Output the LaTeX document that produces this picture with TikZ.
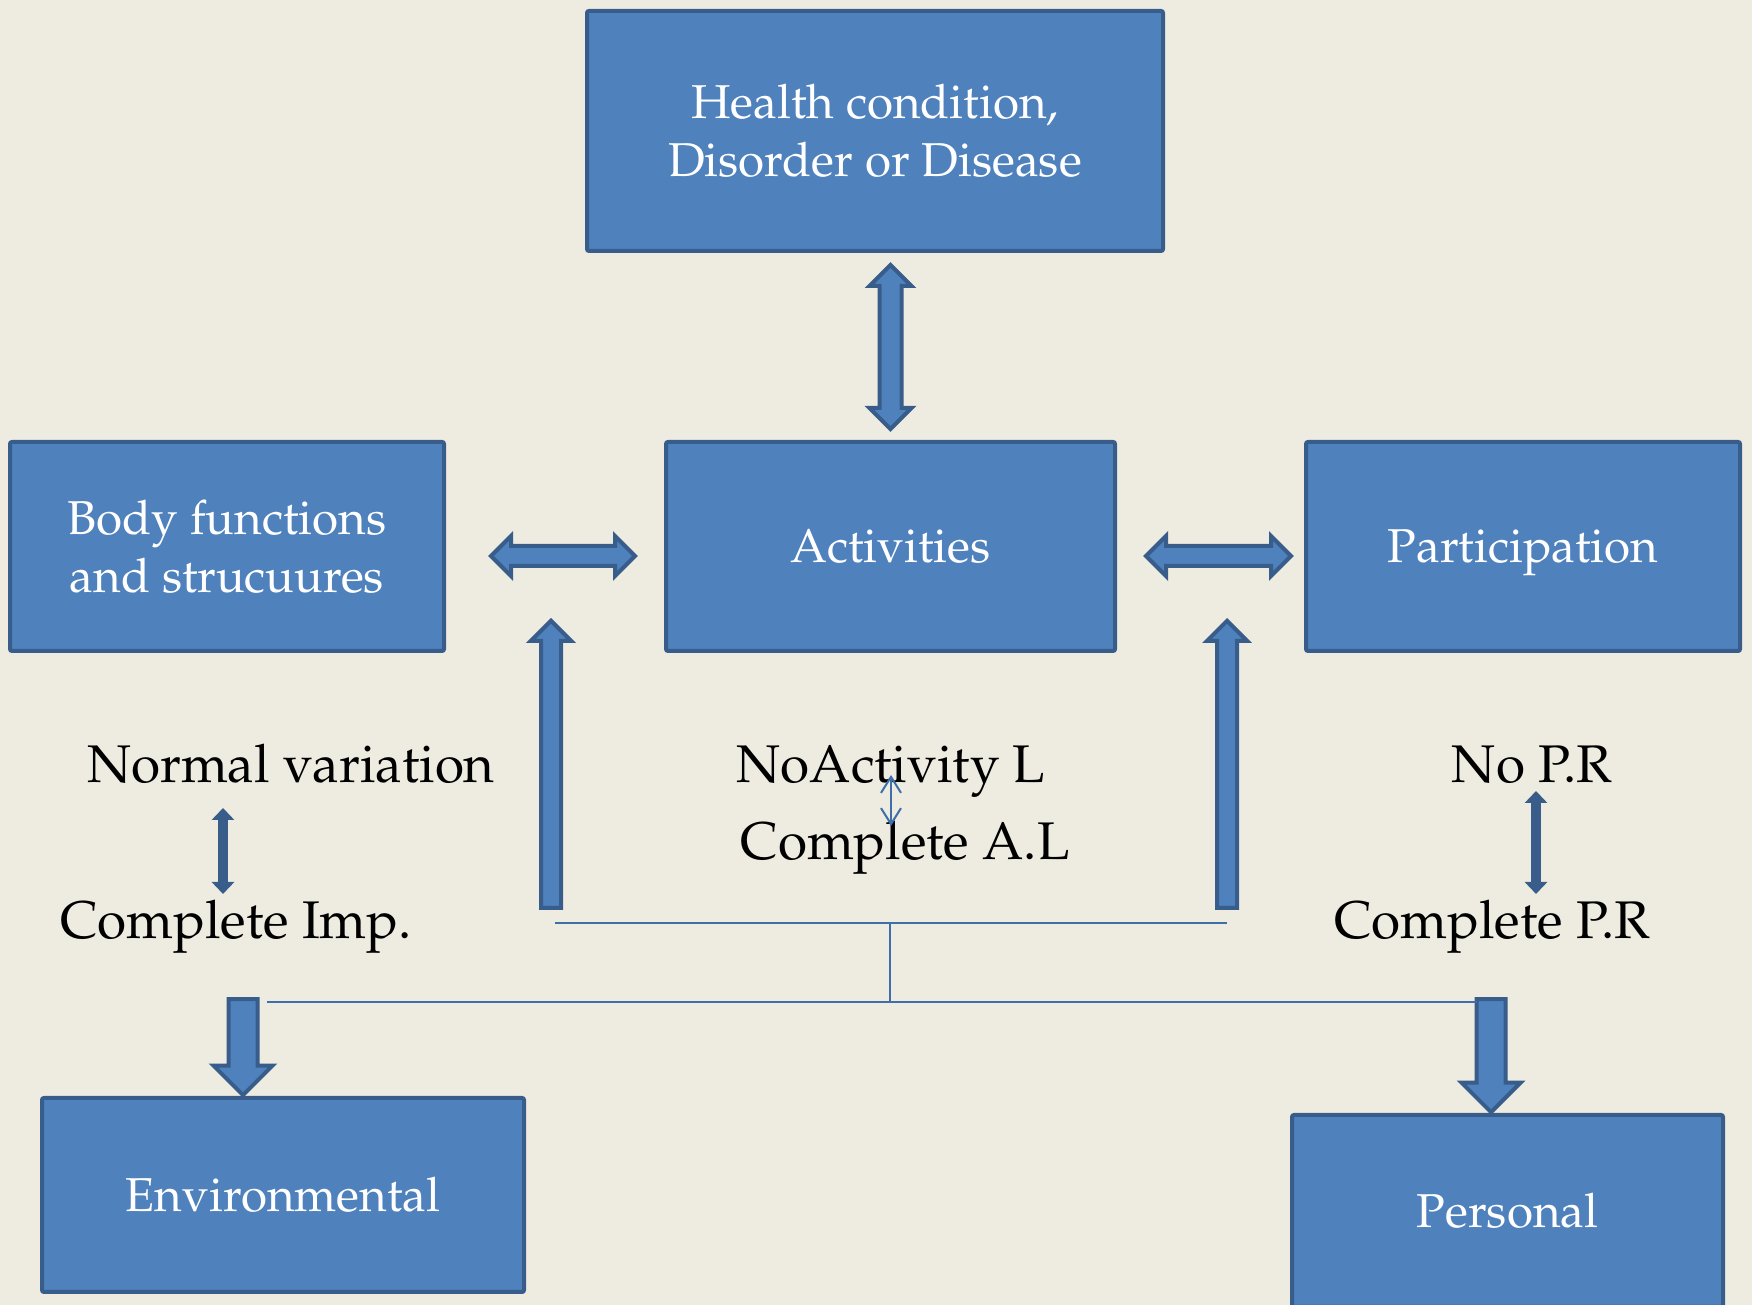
\documentclass[tikz,border=0pt]{standalone}
\usepackage[T1]{fontenc}
\usepackage{mathpazo}
\usepackage{tikz}
\usetikzlibrary{arrows.meta,positioning,calc,shapes.arrows}
\definecolor{boxblue}{RGB}{79,129,189}
\definecolor{boxedge}{RGB}{56,93,138}
\definecolor{slide}{RGB}{238,236,225}
\definecolor{linkblue}{RGB}{63,111,168}

\begin{document}
\begin{tikzpicture}[x=1pt, y=1pt, node distance=191pt]
    \tikzstyle{b}=[draw=boxedge, fill=boxblue, line width=4pt, outer sep=0pt, rounded corners=2pt, text=white, align=center, font=\fontsize{47.5}{58}\selectfont]
    \tikzstyle{lbl}=[anchor=base, inner sep=0pt, font=\fontsize{53}{64}\selectfont]
    \tikzstyle{dbl}=[double arrow, draw=boxedge, fill=boxblue, line width=4pt, inner sep=8pt, double arrow head extend=10pt, double arrow tip angle=90]
    \tikzstyle{uparrow}=[single arrow, draw=boxedge, fill=boxblue, line width=4pt, inner sep=8pt, single arrow head extend=10pt, single arrow tip angle=90, anchor=tip]
    \tikzstyle{link}=[draw=linkblue, line width=2pt]
    \tikzstyle{vararrow}=[boxedge, line width=10pt, {Triangle[width=22pt,length=12pt]}-{Triangle[width=22pt,length=12pt]}]

    \useasboundingbox (0,0) rectangle (1752,1305);
    \fill[slide] (0,0) rectangle (1752,1305);

    % boxes
    \node[b, minimum width=449pt, minimum height=209pt] (act) at (890.5,758.5) {Activities};
    \node[b, minimum width=434pt, minimum height=209pt, left=222pt of act] (body) {Body functions\\and strucuures};
    \node[b, minimum width=434pt, minimum height=209pt, text depth=0pt, right=of act] (part) {Participation};
    \node[b, minimum width=576pt, minimum height=240pt, above=of act, xshift=-15.5pt] (hc) {Health condition,\\Disorder or Disease};
    \node[b, minimum width=482pt, minimum height=194pt] (env) at (283,110) {Environmental};
    \node[b, minimum width=431pt, minimum height=192pt] (pers) at (1507.5,94) {Personal};

    % block arrows
    \node[dbl, shape border rotate=90, minimum height=164pt, inner sep=9pt] (hcact) at ([yshift=95pt]act.north) {};
    \node[dbl, minimum height=144pt] (bodyact) at ([xshift=-103pt,yshift=-9.5pt]act.west) {};
    \node[dbl, minimum height=145pt] (actpart) at ([xshift=103.5pt,yshift=-9.5pt]act.east) {};
    \node[uparrow, shape border rotate=90, minimum height=287pt] (envup) at (551,687) {};
    \node[uparrow, shape border rotate=90, minimum height=287pt] (persup) at (1227,687) {};
    \node[uparrow, shape border rotate=270, minimum height=96pt, inner sep=12.5pt, single arrow head extend=15pt] (envdown) at (env.north -| 243,0) {};
    \node[uparrow, shape border rotate=270, minimum height=113pt, inner sep=12.5pt, single arrow head extend=15pt] (persdown) at (pers.north -| 1491,0) {};

    % joining lines
    \coordinate (jl) at (555,382);
    \coordinate (jr) at (1227,382);
    \coordinate (jm) at (890,382);
    \coordinate (jb) at (890,303);
    \coordinate (bl) at (267,303);
    \coordinate (br) at (1477,303);
    \draw[link] (jl) -- (jr);
    \draw[link] (jm) -- (jb);
    \draw[link] (bl) -- (br);

    % scale labels
    \node[lbl] (nv) at (291,522) {Normal variation};
    \node[lbl] (ci) at (236,366) {Complete Imp.};
    \node[lbl] (na) at (891,522) {NoActivity L};
    \node[lbl] (ca) at (905,445) {Complete A.L};
    \node[lbl] (np) at (1532,522) {No P.R};
    \node[lbl] (cp) at (1492,366) {Complete P.R};

    \coordinate (nvt) at (223,497);
    \coordinate (nvb) at (223,411);
    \coordinate (npt) at (1536,514);
    \coordinate (npb) at (1536,411);
    \coordinate (nat) at (891,530);
    \coordinate (nab) at (891,479);
    \draw[vararrow] (nvt) -- (nvb);
    \draw[vararrow] (npt) -- (npb);
    \draw[link, {Straight Barb[width=20pt,length=16pt]}-{Straight Barb[width=20pt,length=16pt]}] (nat) -- (nab);
\end{tikzpicture}
\end{document}
